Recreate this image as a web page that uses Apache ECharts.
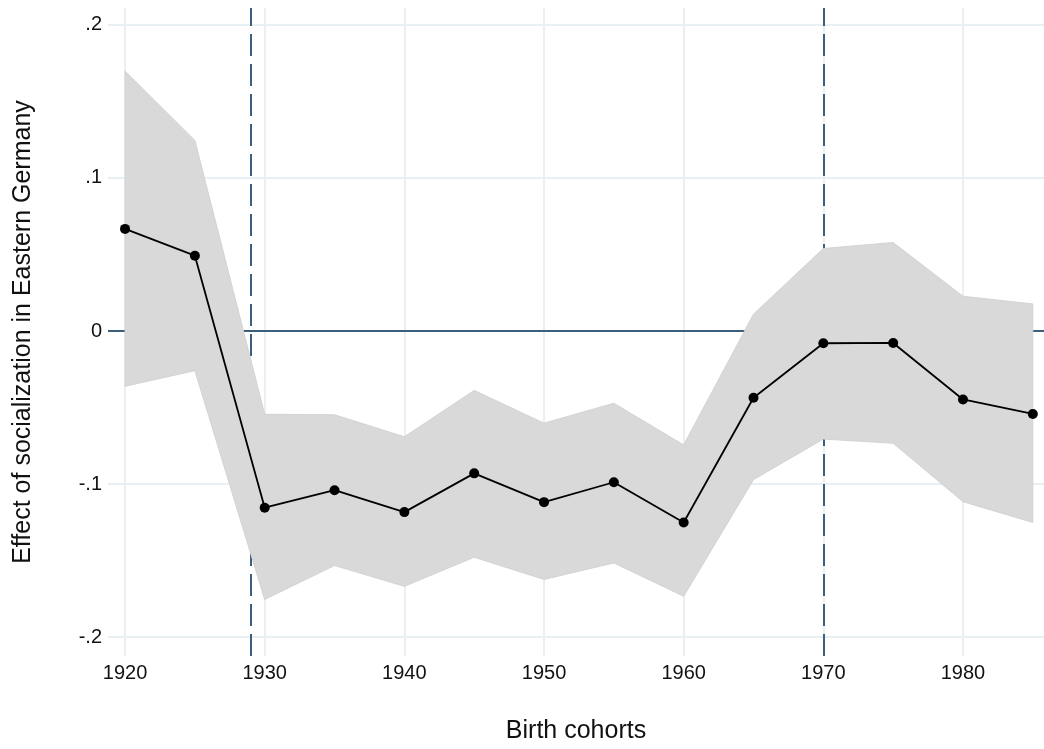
<!DOCTYPE html>
<html>
<head>
<meta charset="utf-8">
<script src="https://cdn.jsdelivr.net/npm/echarts@6/dist/echarts.min.js"></script>
<style>
html,body{margin:0;padding:0;background:#fff;}
#chart{width:1044px;height:749px;}
</style>
</head>
<body>
<div id="chart"></div>
<script>
// ---- data ----
const years = [1920, 1925, 1930, 1935, 1940, 1945, 1950, 1955, 1960, 1965, 1970, 1975, 1980, 1985];
const estimate = [0.0667, 0.0492, -0.1154, -0.1040, -0.1183, -0.0930, -0.1118, -0.0988, -0.1251, -0.0436, -0.0080, -0.0078, -0.0447, -0.0542];
const upperCI = [0.1698, 0.1245, -0.0544, -0.0547, -0.0691, -0.0388, -0.0602, -0.0472, -0.0744, 0.0110, 0.0539, 0.0578, 0.0227, 0.0177];
const lowerCI = [-0.0361, -0.0259, -0.1754, -0.1532, -0.1668, -0.1478, -0.1623, -0.1515, -0.1733, -0.0971, -0.0706, -0.0733, -0.1115, -0.1251];
const xTicks = [1920, 1930, 1940, 1950, 1960, 1970, 1980];
const yTicks = [-0.2, -0.1, 0, 0.1, 0.2];
const yTickLabels = ['-.2', '-.1', '0', '.1', '.2'];
const refYears = [1929, 1970];
const xTitle = 'Birth cohorts';
const yTitle = 'Effect of socialization in Eastern Germany';

// ---- chart ----
const FONT = '"Liberation Sans", Arial, Helvetica, sans-serif';
const GRID_COLOR = '#e9f0f3';
const REF_COLOR = '#3d5f7e';

const bandData = years.map((y, i) => [y, lowerCI[i], upperCI[i]]);
const estData = years.map((y, i) => [y, estimate[i]]);

const gridLines = [];
xTicks.forEach(v => gridLines.push({ xAxis: v, lineStyle: { color: GRID_COLOR, width: 2, type: 'solid' } }));
yTicks.filter(v => v !== 0).forEach(v => gridLines.push({ yAxis: v, lineStyle: { color: GRID_COLOR, width: 2, type: 'solid' } }));
gridLines.push({ yAxis: 0, lineStyle: { color: REF_COLOR, width: 2, type: 'solid' } });
refYears.forEach(v => gridLines.push({ xAxis: v, lineStyle: { color: REF_COLOR, width: 2, type: [22, 8] } }));

function renderBand(params, api) {
  if (params.dataIndex !== 0) return null;
  const top = bandData.map(d => api.coord([d[0], d[2]]));
  const bottom = bandData.slice().reverse().map(d => api.coord([d[0], d[1]]));
  return {
    type: 'polygon',
    shape: { points: top.concat(bottom) },
    style: { fill: '#d9d9d9', stroke: '#d3d3d3', lineWidth: 1 },
    silent: true
  };
}

const chart = echarts.init(document.getElementById('chart'), null, { renderer: 'canvas' });
chart.setOption({
  animation: false,
  backgroundColor: '#ffffff',
  grid: { left: 108, right: 0, top: 8, bottom: 87, containLabel: false },
  xAxis: {
    type: 'value',
    min: 1918.78,
    max: 1985.80,
    name: xTitle,
    nameLocation: 'middle',
    nameGap: 63,
    nameTextStyle: { fontFamily: FONT, fontSize: 25, color: '#111' },
    axisLine: { show: false },
    axisTick: { show: false },
    splitLine: { show: false },
    axisLabel: {
      customValues: xTicks,
      fontFamily: FONT, fontSize: 20, color: '#111', margin: 7,
      formatter: v => String(Math.round(v))
    }
  },
  yAxis: {
    type: 'value',
    min: -0.2123,
    max: 0.2110,
    name: yTitle,
    nameLocation: 'middle',
    nameGap: 72,
    nameRotate: 90,
    nameTextStyle: { fontFamily: FONT, fontSize: 25, color: '#111' },
    axisLine: { show: false },
    axisTick: { show: false },
    splitLine: { show: false },
    axisLabel: {
      customValues: yTicks,
      fontFamily: FONT, fontSize: 20, color: '#111', margin: 6,
      formatter: v => {
        const idx = yTicks.findIndex(t => Math.abs(t - v) < 1e-9);
        return idx >= 0 ? yTickLabels[idx] : '';
      }
    }
  },
  series: [
    {
      name: 'refs',
      type: 'line',
      z: 1,
      data: [],
      silent: true,
      markLine: {
        z: 1,
        silent: true,
        symbol: ['none', 'none'],
        label: { show: false },
        emphasis: { disabled: true },
        animation: false,
        data: gridLines
      }
    },
    {
      name: 'ci',
      type: 'custom',
      z: 2,
      data: bandData,
      renderItem: renderBand,
      silent: true
    },
    {
      name: 'estimate',
      type: 'line',
      z: 3,
      data: estData,
      symbol: 'circle',
      symbolSize: 10,
      showAllSymbol: true,
      itemStyle: { color: '#000', borderWidth: 0 },
      lineStyle: { color: '#000', width: 1.8 },
      silent: true
    }
  ]
});
</script>
</body>
</html>
